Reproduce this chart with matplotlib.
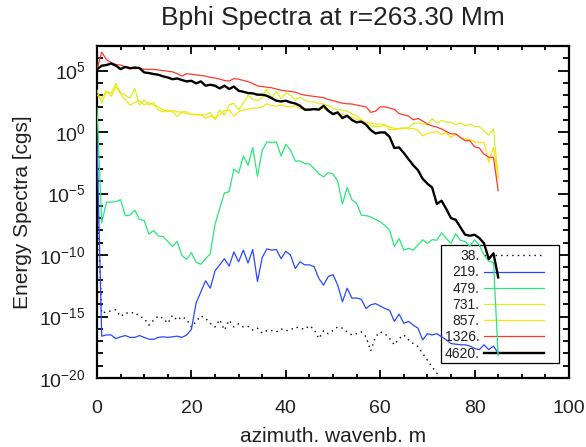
import matplotlib
matplotlib.use("Agg")
import matplotlib.pyplot as plt
import numpy as np
from matplotlib.patches import Rectangle
from matplotlib.ticker import FixedLocator, FuncFormatter, NullFormatter

plt.rcParams.update({
    "font.family": "Liberation Sans",
    "mathtext.fontset": "custom",
    "mathtext.rm": "Liberation Sans",
    "axes.unicode_minus": False,
    "text.color": "#222222",
    "xtick.color": "black",
    "ytick.color": "black",
    "xtick.labelcolor": "#222222",
    "ytick.labelcolor": "#222222",
})

title = "Bphi Spectra at r=263.30 Mm"
xlabel = "azimuth. wavenb. m"
ylabel = "Energy Spectra [cgs]"

# azimuthal wavenumber
m = np.arange(0, 86)

# log10 of the spectra (one row = 10 wavenumbers)
s38 = [-5.0, -14.75, -14.6, -14.55, -14.45, -15.0, -14.7, -14.75, -14.65, -15.0,
       -15.15, -15.7, -15.3, -14.95, -15.15, -15.55, -14.9, -15.3, -15.0, -15.25,
       -15.85, -15.4, -14.95, -15.15, -15.55, -15.85, -15.25, -16.1, -15.3, -15.85,
       -15.6, -15.85, -15.8, -16.1, -15.95, -16.35, -16.15, -16.15, -16.25, -16.0,
       -16.15, -16.1, -15.85, -15.95, -16.05, -15.75, -16.05, -16.8, -16.15, -16.4,
       -16.15, -15.85, -15.95, -16.25, -16.5, -16.4, -16.25, -16.65, -17.8, -16.65,
       -16.25, -16.4, -16.8, -17.3, -16.8, -16.5, -16.9, -17.2, -17.45, -18.0,
       -18.55, -19.1, -19.6, -20.2, -20.8]

s219 = [-0.65, -16.6, -16.5, -16.5, -16.8, -16.65, -16.55, -16.7, -16.7, -16.55,
        -16.7, -16.85, -16.85, -16.7, -16.65, -16.7, -16.65, -16.6, -16.7, -16.5,
        -16.05, -13.9, -13.0, -12.1, -12.7, -11.3, -10.8, -10.3, -10.9, -9.75,
        -10.55, -9.6, -10.65, -9.55, -12.15, -10.2, -9.5, -9.6, -9.55, -10.3,
        -9.7, -10.0, -11.1, -10.55, -10.8, -10.8, -10.95, -11.9, -12.45, -11.75,
        -11.6, -12.45, -13.8, -12.7, -13.5, -13.5, -13.6, -14.35, -14.05, -13.95,
        -14.15, -14.35, -14.5, -15.4, -14.8, -15.55, -15.4, -15.7, -15.95, -16.9,
        -16.4, -16.5, -16.4, -16.65, -16.9, -17.2, -17.25, -17.3, -17.3, -17.4,
        -17.6, -17.7, -17.3, -17.7, -17.4, -18.0]

s479 = [2.0, -7.4, -5.7, -5.7, -5.65, -5.5, -6.8, -6.75, -6.35, -7.1,
        -7.2, -8.3, -8.0, -8.45, -8.5, -8.9, -9.3, -8.9, -10.05, -10.35,
        -9.8, -10.6, -10.75, -10.3, -9.9, -7.5, -6.2, -4.95, -4.85, -3.0,
        -3.35, -1.95, -2.7, -1.25, -3.6, -1.5, -0.8, -0.85, -0.8, -1.95,
        -1.0, -1.45, -2.35, -2.35, -2.55, -2.6, -2.95, -3.4, -3.65, -3.3,
        -3.4, -4.0, -5.85, -4.5, -5.5, -5.8, -6.75, -6.8, -6.9, -7.1,
        -7.3, -7.6, -8.0, -9.3, -8.65, -9.6, -9.45, -9.6, -9.2, -8.75,
        -9.05, -8.75, -8.8, -8.2, -8.65, -9.05, -8.25, -8.8, -8.9, -9.3,
        -8.75, -9.2, -10.0, -10.5, -10.6, -18.2]

s731 = [3.4, 2.35, 3.3, 3.15, 3.95, 3.2, 3.0, 2.75, 3.55, 2.2,
        2.6, 2.2, 2.4, 1.8, 1.65, 1.8, 1.65, 1.25, 1.65, 1.65,
        1.4, 1.45, 1.4, 1.4, 1.6, 1.0, 1.8, 1.4, 2.2, 2.35,
        1.8, 2.35, 3.0, 2.65, 2.55, 2.8, 3.5, 2.75, 3.3, 2.7,
        3.2, 3.0, 2.6, 2.85, 2.6, 2.45, 2.45, 2.3, 2.3, 2.1,
        1.95, 1.8, 1.8, 1.7, 1.5, 1.3, 1.05, 0.65, 0.5, 0.45,
        0.45, 0.55, 0.4, 0.3, 0.25, 0.3, 0.35, 0.7, 0.75, 0.65,
        0.6, 1.1, 0.75, 0.95, 0.8, 0.8, 0.6, 0.75, 0.5, 0.65,
        0.45, 0.45, 0.1, -0.25, 0.25, -3.7]

s857 = [3.0, 2.75, 3.35, 2.9, 3.7, 3.1, 2.6, 2.2, 2.4, 2.55,
        2.2, 2.4, 2.2, 2.05, 1.8, 1.65, 1.75, 1.65, 1.6, 1.5,
        1.45, 1.4, 1.4, 1.1, 1.3, 1.15, 1.4, 1.75, 1.8, 1.3,
        1.65, 1.8, 1.85, 1.95, 1.95, 2.05, 2.3, 2.15, 2.1, 2.2,
        2.1, 2.05, 2.15, 1.9, 1.95, 1.85, 1.9, 1.95, 1.9, 1.75,
        1.55, 1.45, 1.45, 1.35, 1.2, 1.05, 0.9, 0.8, 0.7, 0.65,
        0.65, 0.6, 0.2, 0.2, 0.3, 0.35, 0.25, 0.3, 0.15, -0.3,
        -0.1, -0.03, 0.05, -0.2, -0.05, -0.45, -0.15, -0.45, -0.55, -0.6,
        -0.8, -0.85, -0.85, -2.45, -1.25, -3.7]

s1326 = [5.1, 6.5, 5.9, 5.65, 5.5, 5.45, 5.3, 5.25, 5.15, 5.2,
         5.1, 5.1, 5.1, 5.05, 5.0, 4.95, 4.9, 4.75, 4.55, 4.75,
         4.7, 4.65, 4.6, 4.55, 4.45, 4.4, 4.3, 4.2, 4.15, 4.35,
         4.3, 4.2, 4.1, 3.95, 3.75, 3.7, 3.65, 3.6, 3.5, 3.4,
         3.35, 3.3, 3.25, 3.1, 3.0, 2.95, 2.9, 2.85, 2.8, 2.65,
         2.55, 2.45, 2.35, 2.3, 2.28, 2.2, 2.12, 2.05, 1.6, 1.7,
         2.05, 2.05, 1.95, 1.85, 1.5, 1.4, 1.3, 1.0, 1.1, 0.9,
         0.65, 0.5, 0.4, 0.25, 0.05, -0.15, -0.15, -0.45, -0.7, -0.7,
         -1.2, -1.3, -1.8, -2.05, -2.05, -4.77]

s4620 = [5.1, 5.4, 5.45, 5.58, 5.4, 5.12, 5.3, 5.18, 5.25, 5.2,
         4.85, 4.8, 4.72, 4.66, 4.53, 4.44, 4.3, 4.36, 4.23, 4.12,
         4.17, 3.96, 4.12, 3.77, 3.85, 3.77, 3.55, 3.77, 3.5, 3.7,
         3.36, 3.28, 3.17, 3.15, 3.04, 3.04, 2.95, 2.76, 2.55, 2.49,
         2.55, 2.41, 2.33, 2.14, 1.82, 1.82, 1.87, 1.82, 2.14, 1.73,
         1.46, 1.6, 1.14, 1.33, 0.98, 0.79, 0.85, 0.6, 0.16, -0.11,
         -0.03, -0.03, -0.4, -1.3, -1.25, -1.7, -2.2, -2.7, -3.1, -3.8,
         -4.2, -4.5, -5.85, -5.58, -6.26, -7.0, -7.13, -7.75, -8.35, -8.43,
         -8.35, -8.62, -9.05, -10.33, -9.86, -11.82]

labels = ["38.", "219.", "479.", "731.", "857.", "1326.", "4620."]
series = [s38, s219, s479, s731, s857, s1326, s4620]
colors = ["black", "#2848ff", "#28e878", "#d4f41c", "#ffe010", "#ff3a28", "black"]
widths = [1.0, 0.9, 0.9, 0.9, 0.9, 0.9, 1.7]
styles = [(0, (1, 3)), "-", "-", "-", "-", "-", "-"]

fig = plt.figure(figsize=(5.86, 4.47), dpi=100)
ax = fig.add_axes([0.1655, 0.1544, 0.8055, 0.7427])

handles = []
for lab, s, c, w, ls in zip(labels, series, colors, widths, styles):
    h, = ax.plot(m[:len(s)], 10.0 ** np.array(s), color=c, lw=w, ls=ls,
                 label=lab, zorder=3)
    handles.append(h)

ax.set_yscale("log")
ax.set_xlim(0, 100)
ax.set_ylim(1e-20, 1e7)

ax.xaxis.set_major_locator(FixedLocator([0, 20, 40, 60, 80, 100]))
ax.xaxis.set_minor_locator(FixedLocator(np.arange(0, 101, 5)))
ax.yaxis.set_major_locator(FixedLocator([10.0 ** k for k in range(-20, 6, 5)]))
ax.yaxis.set_minor_locator(FixedLocator([10.0 ** k for k in range(-20, 8)]))
ax.yaxis.set_major_formatter(
    FuncFormatter(lambda v, p: r"$\mathregular{10^{%d}}$" % round(np.log10(v))))
ax.yaxis.set_minor_formatter(NullFormatter())
ax.xaxis.set_minor_formatter(NullFormatter())

ax.tick_params(axis="both", which="both", direction="in",
               top=True, right=True, width=1.3, labelsize=14)
ax.tick_params(axis="x", which="major", length=6, pad=16)
ax.tick_params(axis="x", which="minor", length=3)
ax.tick_params(axis="y", which="major", length=8, pad=8)
ax.tick_params(axis="y", which="minor", length=4)
for sp in ax.spines.values():
    sp.set_linewidth(1.6)

# legend box, drawn under the curves as in the original
ax.add_patch(Rectangle((0.7288, 0.0452), 0.25, 0.3554, transform=ax.transAxes,
                       facecolor="white", edgecolor="black", lw=0.9,
                       zorder=1.9))
leg = ax.legend(handles=handles, loc="upper right",
                bbox_to_anchor=(0.947, 0.388), borderaxespad=0,
                markerfirst=False, frameon=False, fontsize=10,
                handlelength=4.3, handletextpad=0.36, labelspacing=0.16,
                borderpad=0)
leg.set_zorder(2)

cx = 0.1655 + 0.8055 / 2
fig.text(cx, 0.960, title, ha="center", va="center", fontsize=19)
fig.text(cx, 0.024, xlabel, ha="center", va="center", fontsize=15)
fig.text(0.038, 0.526, ylabel, ha="center", va="center", fontsize=15,
         rotation=90)

fig.savefig("out.png", dpi=100)
